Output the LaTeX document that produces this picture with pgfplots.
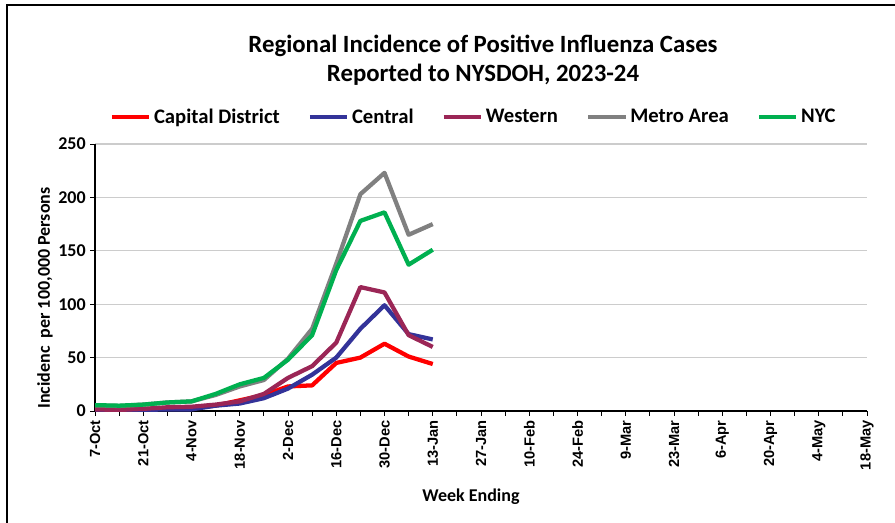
\documentclass[border=0pt]{standalone}
\usepackage{pgfplots}
\pgfplotsset{compat=1.18}
\usepackage{fontspec}
\setmainfont{Carlito}
\newfontfamily\arialf{Liberation Sans}
\definecolor{capred}{RGB}{255,0,0}
\definecolor{central}{RGB}{51,51,153}
\definecolor{western}{RGB}{155,38,86}
\definecolor{metro}{RGB}{128,128,128}
\definecolor{nyc}{RGB}{0,176,80}
\begin{document}
\begin{tikzpicture}[x=0.75pt,y=0.75pt]
\path[use as bounding box] (0,0) rectangle (895,522);
\draw[line width=1.1pt] (7,-2) -- (7,517) -- (897,517);
\node[font=\bfseries\fontsize{18.6}{21.75}\selectfont, align=center] at (483,461.5) {Regional Incidence of Positive Influenza Cases\\Reported to NYSDOH, 2023-24};
\node[font=\bfseries\fontsize{13.5}{16}\selectfont, rotate=90] at (45,224) {Incidenc\ \ per 100,000 Persons};
\node[font=\bfseries\fontsize{13.5}{16}\selectfont] at (471,25) {Week Ending};
\begin{axis}[
  at={(71.25pt,83.25pt)}, anchor=south west,
  scale only axis, width=579pt, height=200.25pt,
  xmin=0, xmax=32, ymin=0, ymax=250,
  axis x line*=bottom, axis y line*=left,
  axis line style={line width=0.8pt, -},
  xtick={0,...,32},
  xticklabels={7-Oct,,21-Oct,,4-Nov,,18-Nov,,2-Dec,,16-Dec,,30-Dec,,13-Jan,,27-Jan,,10-Feb,,24-Feb,,9-Mar,,23-Mar,,6-Apr,,20-Apr,,4-May,,18-May},
  ytick={0,50,...,250},
  tick align=outside,
  major tick length=3.5pt,
  tick style={line width=0.7pt, black},
  x tick label style={rotate=90, anchor=east, font=\arialf\bfseries\fontsize{11}{13}\selectfont},
  y tick label style={font=\bfseries\fontsize{13.5}{16}\selectfont},
  /pgf/number format/assume math mode=true,
  ymajorgrids, grid style={line width=0.8pt, black!20},
  legend columns=5,
  legend style={at={(0.491,1)}, anchor=center, yshift=20.25pt, draw=none, fill=none,
    font=\bfseries\fontsize{15.5}{18}\selectfont,
    /tikz/every even column/.append style={column sep=19pt}},
  legend image code/.code={\draw[#1] (0pt,0pt) -- (28pt,0pt);},
  every axis plot/.append style={line width=3.2pt, line join=round, mark=none},
]
\addplot[capred] coordinates {(0,2)(1,1.5)(2,2)(3,2.5)(4,3)(5,5)(6,10)(7,15)(8,23)(9,24)(10,45)(11,50)(12,63)(13,51)(14,44)};
\addplot[central] coordinates {(0,1)(1,0.5)(2,1)(3,1.5)(4,1.5)(5,5)(6,7)(7,12)(8,21)(9,34)(10,50)(11,77)(12,99)(13,72)(14,67)};
\addplot[western] coordinates {(0,1.5)(1,1)(2,2)(3,3.5)(4,4)(5,6)(6,9)(7,16)(8,31)(9,42)(10,64)(11,116)(12,111)(13,71)(14,60)};
\addplot[metro] coordinates {(0,5.3)(1,4.7)(2,6)(3,8)(4,9)(5,15)(6,23)(7,29)(8,49)(9,77)(10,138)(11,203)(12,223)(13,165)(14,175)};
\addplot[nyc] coordinates {(0,5.5)(1,5)(2,6)(3,8)(4,9)(5,16)(6,25)(7,31)(8,48)(9,71)(10,132)(11,178)(12,186)(13,137)(14,151)};
\legend{Capital District,Central,Western,Metro Area,NYC}
\end{axis}
\end{tikzpicture}
\end{document}
